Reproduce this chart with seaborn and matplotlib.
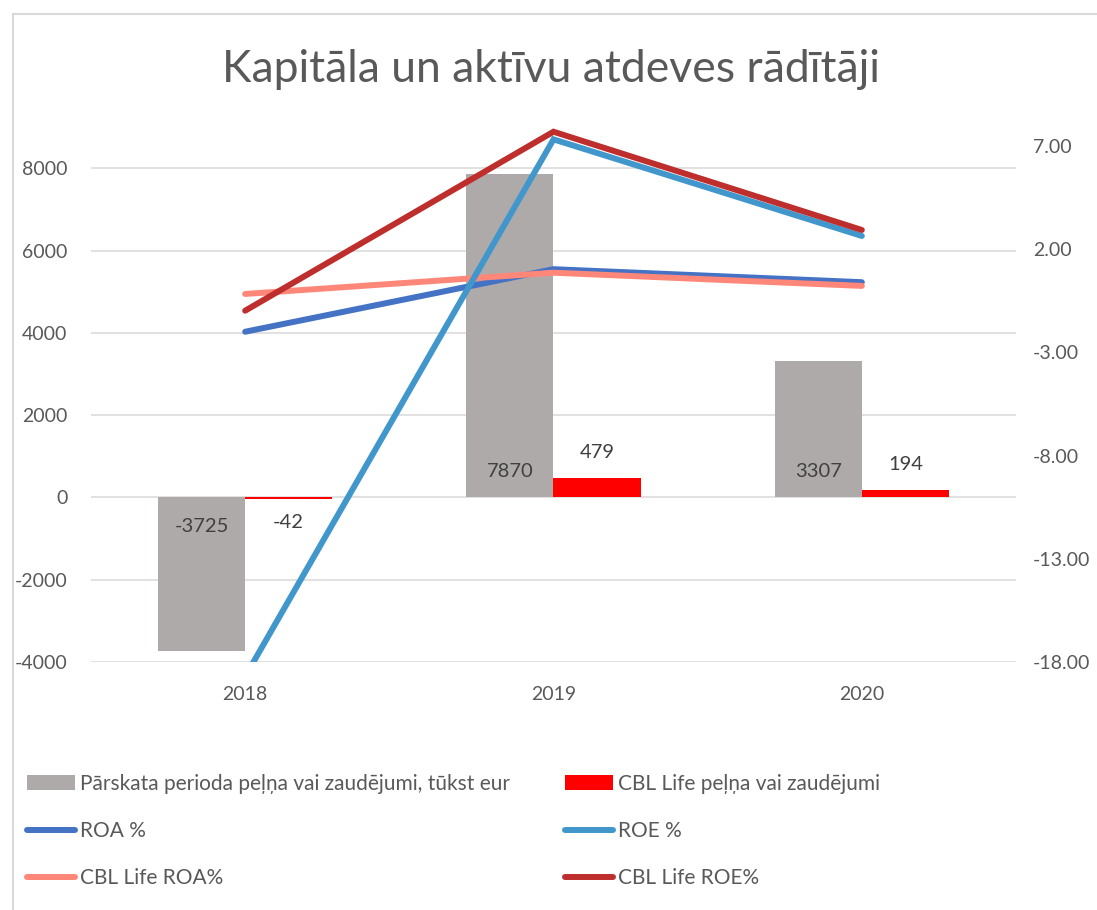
import numpy as np
import pandas as pd
import matplotlib
matplotlib.use("Agg")
import matplotlib.pyplot as plt
from matplotlib.patches import Patch
from matplotlib.lines import Line2D
import seaborn as sns

# ---- data ----
years = ["2018", "2019", "2020"]
profit_total = [-3725, 7870, 3307]          # Pārskata perioda peļņa vai zaudējumi, tūkst eur
profit_cbl = [-42, 479, 194]                # CBL Life peļņa vai zaudējumi
roa = [-2.0, 1.03, 0.40]                    # ROA %
roe = [-18.7, 7.32, 2.64]                   # ROE %
cbl_roa = [-0.17, 0.86, 0.22]               # CBL Life ROA%
cbl_roe = [-0.98, 7.69, 2.93]               # CBL Life ROE%

bar_names = ["Pārskata perioda peļņa vai zaudējumi, tūkst eur", "CBL Life peļņa vai zaudējumi"]
line_names = ["ROA %", "ROE %", "CBL Life ROA%", "CBL Life ROE%"]
title = "Kapitāla un aktīvu atdeves rādītāji"
left_ticks = [-4000, -2000, 0, 2000, 4000, 6000, 8000]
right_ticks = [-18, -13, -8, -3, 2, 7]

# ---- style ----
bar_colors = ["#AEAAAA", "#FF0000"]
line_colors = ["#4472C4", "#4197CB", "#FF8779", "#BE2E2C"]
text_color = "#595959"
grid_color = "#D9D9D9"

sns.set_theme(style="white")
plt.rcParams["font.family"] = ["Lato", "DejaVu Sans"]

W, H = 1097, 910
fig = plt.figure(figsize=(W / 100, H / 100), dpi=100)
ax = fig.add_axes([91 / W, 1 - 662 / H, (1016 - 91) / W, (662 - 115) / H])

df = pd.DataFrame({
    "year": years * 2,
    "value": profit_total + profit_cbl,
    "series": [bar_names[0]] * 3 + [bar_names[1]] * 3,
})
sns.barplot(data=df, x="year", y="value", hue="series", palette=bar_colors,
            width=0.565, dodge=True, legend=False, linewidth=0, saturation=1,
            ax=ax, zorder=2)

ax.set_ylim(-4000, 9300)
ax.set_yticks(left_ticks)
ax.set_yticklabels([str(t) for t in left_ticks])
ax.yaxis.grid(True, color=grid_color, linewidth=1.1, zorder=0)
ax.set_axisbelow(True)
ax.set_xlabel("")
ax.set_ylabel("")
for s in ax.spines.values():
    s.set_visible(False)
ax.tick_params(axis="y", length=0, pad=17, labelsize=14, labelcolor=text_color)
ax.tick_params(axis="x", length=0, pad=17, labelsize=14, labelcolor=text_color)
ax.set_xlim(-0.5, len(years) - 0.5)

# data labels
c_total, c_cbl = ax.containers[0], ax.containers[1]
for p, v in zip(c_total, profit_total):
    xc = p.get_x() + p.get_width() / 2
    off = 19 if v >= 0 else -21
    ax.annotate(str(v), (xc, 0), xytext=(0, off), textcoords="offset points",
                ha="center", va="center", fontsize=14.5, color="#404040")
for p, v in zip(c_cbl, profit_cbl):
    xc = p.get_x() + p.get_width() / 2
    off = 18 if v >= 0 else -17
    ax.annotate(str(v), (xc, v), xytext=(0, off), textcoords="offset points",
                ha="center", va="center", fontsize=14.5, color="#404040")

# lines on secondary axis
ax2 = ax.twinx()
xpos = np.arange(len(years))
line_data = [roa, cbl_roa, roe, cbl_roe]
line_cols = [line_colors[0], line_colors[2], line_colors[1], line_colors[3]]
for vals, col in zip(line_data, line_cols):
    sns.lineplot(x=xpos, y=vals, ax=ax2, color=col, linewidth=4.3,
                 solid_capstyle="round", solid_joinstyle="miter")
ax2.set_ylim(-18, 8.5)
ax2.set_yticks(right_ticks)
ax2.set_yticklabels([f"{t:.2f}" for t in right_ticks])
ax2.tick_params(axis="y", length=0, pad=12, labelsize=14, labelcolor=text_color)
ax2.grid(False)
for s in ax2.spines.values():
    s.set_visible(False)
ax2.set_ylabel("")
ax2.set_xlim(-0.5, len(years) - 0.5)

# title
fig.text(0.502, 1 - 70 / H, title, ha="center", va="center", fontsize=32, color=text_color)

# chart frame
fig.add_artist(Line2D([13 / W, 13 / W], [0, 1 - 14 / H], transform=fig.transFigure,
                      color=grid_color, linewidth=1.5))
fig.add_artist(Line2D([13 / W, 1], [1 - 14 / H, 1 - 14 / H], transform=fig.transFigure,
                      color=grid_color, linewidth=1.5))

# legend (two columns, placed separately)
col1 = [Patch(facecolor=bar_colors[0], edgecolor="none", label=bar_names[0]),
        Line2D([], [], color=line_colors[0], lw=4.3, solid_capstyle="round", label=line_names[0]),
        Line2D([], [], color=line_colors[2], lw=4.3, solid_capstyle="round", label=line_names[2])]
col2 = [Patch(facecolor=bar_colors[1], edgecolor="none", label=bar_names[1]),
        Line2D([], [], color=line_colors[1], lw=4.3, solid_capstyle="round", label=line_names[1]),
        Line2D([], [], color=line_colors[3], lw=4.3, solid_capstyle="round", label=line_names[3])]
for handles, x0 in [(col1, 27), (col2, 565)]:
    leg = fig.legend(handles=handles, loc="upper left", bbox_to_anchor=(x0 / W, 1 - 774 / H),
                     frameon=False, fontsize=15, handlelength=2.3, handletextpad=0.25,
                     labelspacing=1.3, borderpad=0, borderaxespad=0, labelcolor=text_color)

fig.savefig("out.png", dpi=100)
